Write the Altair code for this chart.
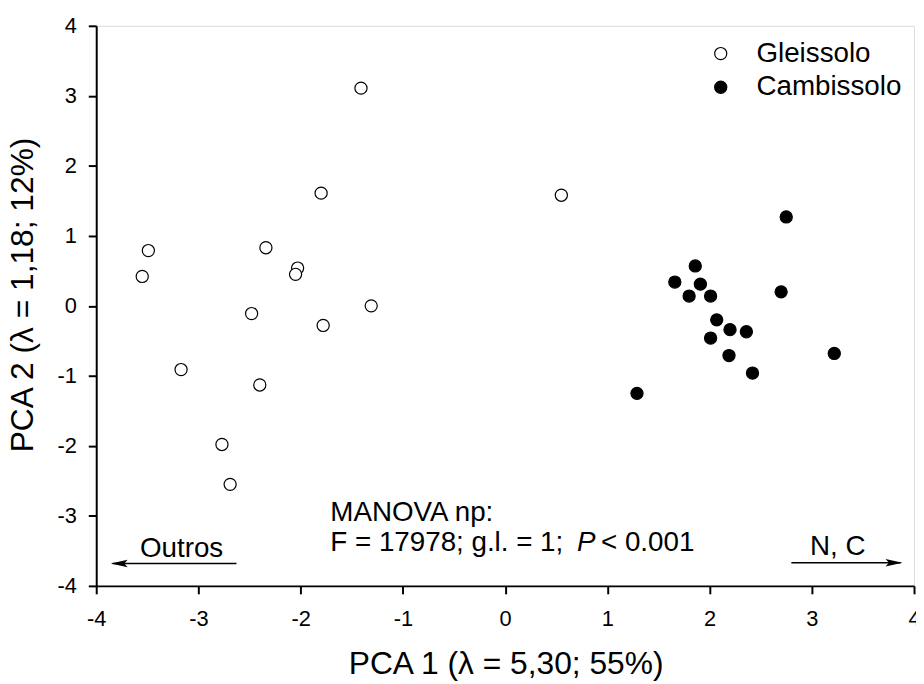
import altair as alt
import pandas as pd

FONT = "Liberation Sans"

# Data
gleis_x = [-1.41, -1.80, -3.49, -2.34, -3.55, -2.03, -2.05, -1.31, -2.48, -1.78, -3.17, -2.40, -2.77, -2.69, 0.55]
gleis_y = [3.11, 1.61, 0.79, 0.83, 0.42, 0.54, 0.45, 0.00, -0.11, -0.28, -0.91, -1.13, -1.98, -2.55, 1.58]
camb_x = [2.75, 1.86, 1.66, 1.91, 1.80, 2.01, 2.70, 2.07, 2.20, 2.36, 2.01, 2.19, 3.22, 2.42, 1.29]
camb_y = [1.27, 0.57, 0.34, 0.31, 0.14, 0.14, 0.20, -0.20, -0.34, -0.37, -0.46, -0.71, -0.68, -0.96, -1.25]
groups = ["Gleissolo", "Cambissolo"]
tick_values = [-4, -3, -2, -1, 0, 1, 2, 3, 4]

df = pd.DataFrame({
    "x": gleis_x + camb_x,
    "y": gleis_y + camb_y,
    "Solo": [groups[0]] * len(gleis_x) + [groups[1]] * len(camb_x),
})

xscale = alt.Scale(domain=[-4, 4], nice=False, zero=False)
yscale = alt.Scale(domain=[-4, 4], nice=False, zero=False)

common = dict(
    values=tick_values, grid=False, tickSize=8, tickWidth=2, tickColor="black",
    domainWidth=2, domainColor="black", labelFont=FONT, labelFontSize=22,
    labelColor="black", labelFlush=False, labelExpr="'' + datum.value",
    titleFont=FONT, titleFontSize=32, titleFontWeight="normal",
    titleColor="black", titleBaseline="alphabetic", titleAlign="center",
)
xaxis = alt.Axis(title="PCA 1 (λ = 5,30; 55%)", labelPadding=15,
                 titleX=413, titleY=88, **common)
yaxis = alt.Axis(title="PCA 2 (λ = 1,18; 12%)", labelPadding=12,
                 titleX=-64, titleY=271, titleAngle=270, **common)

points = alt.Chart(df).mark_circle(
    size=150, stroke="black", strokeWidth=1.2, opacity=1
).encode(
    x=alt.X("x:Q", scale=xscale, axis=xaxis),
    y=alt.Y("y:Q", scale=yscale, axis=yaxis),
    fill=alt.Fill(
        "Solo:N",
        scale=alt.Scale(domain=groups, range=["white", "black"]),
        legend=alt.Legend(
            title=None, orient="none", legendX=616, legendY=14,
            labelFont=FONT, labelFontSize=28, labelColor="black",
            symbolType="circle", symbolSize=150, symbolStrokeColor="black",
            symbolStrokeWidth=1.2, labelOffset=22, rowPadding=6, padding=0,
        ),
    ),
)

one = pd.DataFrame({"a": [0]})


def text(x, y, s, align="left", style="normal"):
    return alt.Chart(one).mark_text(
        font=FONT, fontSize=28, color="black", align=align,
        baseline="alphabetic", fontStyle=style,
    ).encode(x=alt.datum(x), y=alt.datum(y), text=alt.value(s))


def rule(x1, x2, y):
    return alt.Chart(one).mark_rule(color="black", strokeWidth=1.5).encode(
        x=alt.datum(x1), x2=alt.datum(x2), y=alt.datum(y)
    )


def head(x, y, path):
    return alt.Chart(one).mark_point(
        shape=path, filled=True, color="black", size=289, opacity=1
    ).encode(x=alt.datum(x), y=alt.datum(y))


layers = [
    points,
    text(-1.71, -3.07, "MANOVA np:"),
    text(-1.71, -3.508, "F = 17978; g.l. = 1;"),
    text(0.702, -3.508, "P", style="italic"),
    text(0.938, -3.508, "< 0.001"),
    text(-3.165, -3.583, "Outros", align="center"),
    text(3.254, -3.556, "N, C", align="center"),
    rule(-3.84, -2.628, -3.68),
    head(-3.775, -3.68, "M-1,0L1,-0.45L0.6,0L1,0.45Z"),
    rule(2.80, 3.87, -3.67),
    head(3.804, -3.67, "M1,0L-1,-0.45L-0.6,0L-1,0.45Z"),
]

chart = alt.layer(*layers).properties(
    width=825, height=565,
    autosize=alt.AutoSizeParams(type="none"),
    padding={"left": 89, "top": 15, "right": 2, "bottom": 96},
).configure_view(stroke="black", strokeWidth=2).configure(background="white")

chart.save("out.html", embed_options={"renderer": "svg", "actions": False})
